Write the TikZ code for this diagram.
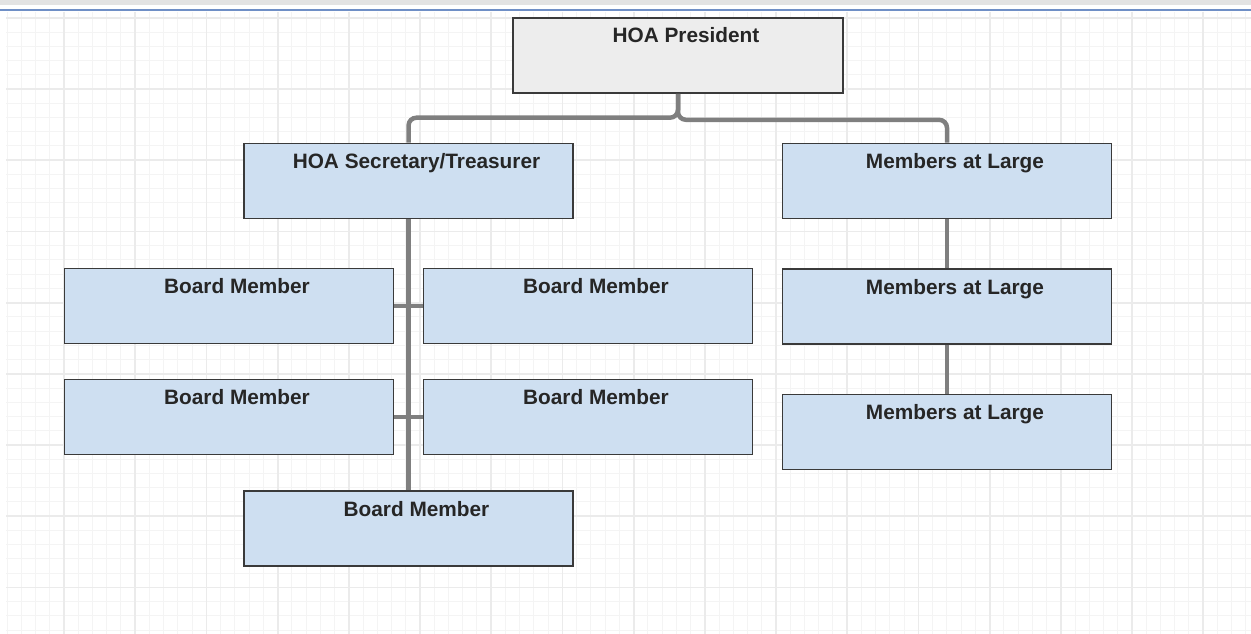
\documentclass[tikz,border=0pt]{standalone}
\usepackage{fontspec}
\setmainfont{Liberation Sans}
\usepackage{tikz}
\usetikzlibrary{positioning}
\definecolor{unitblue}{HTML}{CEDFF1}
\definecolor{unitgray}{HTML}{EDEDED}
\definecolor{unitline}{HTML}{3A3A3A}
\definecolor{linkgray}{HTML}{7F7F7F}
\definecolor{gridminor}{HTML}{F4F4F4}
\definecolor{gridmajor}{HTML}{EBEBEB}
\definecolor{topblue}{HTML}{6F8FC6}
\tikzset{
  unit/.style={draw=unitline, fill=unitblue, line width=1.6pt, inner sep=0pt,
    minimum width=329pt, minimum height=75pt},
  title/.style={anchor=base, inner sep=0pt, text=black!85, font=\fontsize{20.8}{24}\selectfont\bfseries},
  link/.style={draw=linkgray, line width=4.5pt, rounded corners=8pt},
  stub/.style={draw=linkgray, line width=3.5pt}
}

\begin{document}
\begin{tikzpicture}[x=1pt,y=-1pt]
      \useasboundingbox (0,0) rectangle (1251,634);
      % page background
      \fill[gray!22] (0,0) rectangle (1251,5);
      \draw[topblue, line width=2pt] (0,10) -- (1251,10);
      \begin{scope}
        \clip (6,12) rectangle (1251,634);
        \foreach \i in {-4,...,83} \draw[gridminor, line width=1pt] ({64+14.24*\i},12) -- ++(0,622);
        \foreach \i in {-5,...,38} \draw[gridminor, line width=1pt] (6,{89+14.24*\i}) -- ++(1245,0);
        \foreach \i in {0,...,16} \draw[gridmajor, line width=1.8pt] ({64+71.2*\i},12) -- ++(0,622);
        \foreach \i in {-1,...,7} \draw[gridmajor, line width=1.8pt] (6,{89+71.2*\i}) -- ++(1245,0);
      \end{scope}
      % boxes
      \node[unit, fill=unitgray, minimum width=330pt] (pres) at (678,55.5) {};
      \node[unit] (sec) at (408.5,181) {};
      \node[unit] (mal1) at (947,181) {};
      \node[unit] (mal2) at (947,306.5) {};
      \node[unit] (mal3) at (947,432) {};
      \node[unit] (bm1) at (229,306) {};
      \node[unit] (bm2) at (588,306) {};
      \node[unit] (bm3) at (229,417) {};
      \node[unit] (bm4) at (588,417) {};
      \node[unit] (bm5) at (408.5,528.5) {};
      % connectors
      \draw[link] (sec.north) -- ++(0,-25) -| (pres.south);
      \draw[link] (pres.south) -- ++(0,26) -| (mal1.north);
      \draw[link] (sec.south) -- (bm5.north);
      \draw[stub] (bm1.east) -- (bm2.west);
      \draw[stub] (bm3.east) -- (bm4.west);
      \draw[link] (mal1.south) -- (mal2.north);
      \draw[link] (mal2.south) -- (mal3.north);
      % titles
      \node[title] (presT) at ([xshift=8pt,yshift=-25.5pt]pres.north) {HOA President};
      \node[title] (secT) at ([xshift=8pt,yshift=-26pt]sec.north) {HOA Secretary/Treasurer};
      \node[title] (mal1T) at ([xshift=8pt,yshift=-26pt]mal1.north) {Members at Large};
      \node[title] (mal2T) at ([xshift=8pt,yshift=-26pt]mal2.north) {Members at Large};
      \node[title] (mal3T) at ([xshift=8pt,yshift=-26pt]mal3.north) {Members at Large};
      \node[title] (bm1T) at ([xshift=8pt,yshift=-26pt]bm1.north) {Board Member};
      \node[title] (bm2T) at ([xshift=8pt,yshift=-26pt]bm2.north) {Board Member};
      \node[title] (bm3T) at ([xshift=8pt,yshift=-26pt]bm3.north) {Board Member};
      \node[title] (bm4T) at ([xshift=8pt,yshift=-26pt]bm4.north) {Board Member};
      \node[title] (bm5T) at ([xshift=8pt,yshift=-26pt]bm5.north) {Board Member};
    \end{tikzpicture}
\end{document}
